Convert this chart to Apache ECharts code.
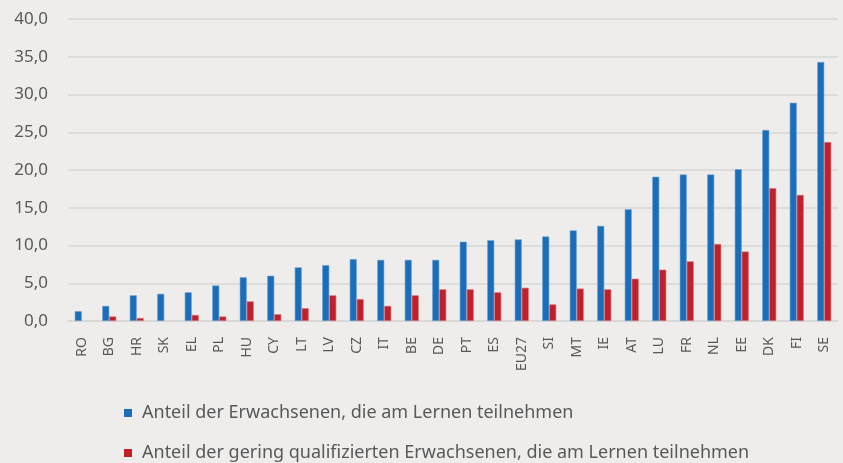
<!DOCTYPE html>
<html>
	<head>
		<meta charset="utf-8">
		<title>Teilnahme am Lernen</title>
		<script src="https://cdn.jsdelivr.net/npm/echarts@6/dist/echarts.min.js"></script>
		<style>
			html, body { margin: 0; padding: 0; background: #eeedeb; }
		</style>
	</head>
	<body>
		<div id="main" style="width: 843px;height:463px;"></div>

		<script type="text/javascript">
			// Länder (sortiert nach Anteil)
			var laender = ['RO', 'BG', 'HR', 'SK', 'EL', 'PL', 'HU', 'CY', 'LT', 'LV', 'CZ', 'IT', 'BE', 'DE',
				'PT', 'ES', 'EU27', 'SI', 'MT', 'IE', 'AT', 'LU', 'FR', 'NL', 'EE', 'DK', 'FI', 'SE'];
			// Anteil der Erwachsenen, die am Lernen teilnehmen
			var alleErwachsenen = [1.3, 2.0, 3.4, 3.6, 3.8, 4.7, 5.8, 6.0, 7.1, 7.4, 8.2, 8.1, 8.1, 8.1,
				10.5, 10.7, 10.8, 11.2, 12.0, 12.6, 14.8, 19.1, 19.4, 19.4, 20.1, 25.3, 28.9, 34.3];
			// Anteil der gering qualifizierten Erwachsenen
			var geringQualifiziert = [null, 0.6, 0.4, null, 0.8, 0.6, 2.6, 0.9, 1.7, 3.4, 2.9, 2.0, 3.4, 4.2,
				4.2, 3.8, 4.4, 2.2, 4.3, 4.2, 5.6, 6.8, 7.9, 10.2, 9.2, 17.6, 16.7, 23.7];
			var serienNamen = ['Anteil der Erwachsenen, die am Lernen teilnehmen',
				'Anteil der gering qualifizierten Erwachsenen, die am Lernen teilnehmen'];
			var yTicks = { min: 0, max: 40, interval: 5 };

			var myChart = echarts.init(document.getElementById('main'));
			var font = '"Noto Sans", sans-serif';

			// je Serie eine eigene Legende, untereinander
			function legende(name, top) {
				return {
					left: 124,
					top: top,
					padding: 0,
					itemWidth: 8,
					itemHeight: 8,
					icon: 'rect',
					itemStyle: { borderWidth: 0 },
					textStyle: { fontFamily: font, fontSize: 18, color: '#595959', padding: [0, 0, 0, 5] },
					data: [name]
				};
			}

			var option = {
				backgroundColor: '#eeedeb',
				animation: false,
				grid: { left: 68, right: 5, top: 19, bottom: 142, containLabel: false },
				legend: [legende(serienNamen[0], 404), legende(serienNamen[1], 444)],
				xAxis: {
					type: 'category',
					data: laender,
					axisLine: { lineStyle: { color: '#d6d6d6', width: 1.5 } },
					axisTick: { show: false },
					axisLabel: { rotate: 90, margin: 16, interval: 0, fontFamily: font, fontSize: 14, color: '#595959' }
				},
				yAxis: {
					type: 'value',
					min: yTicks.min,
					max: yTicks.max,
					interval: yTicks.interval,
					axisLine: { show: false },
					axisTick: { show: false },
					splitLine: { lineStyle: { color: '#d6d6d6', width: 1.5 } },
					axisLabel: {
						margin: 20,
						fontFamily: font,
						fontSize: 17,
						color: '#595959',
						formatter: function (v) { return v.toFixed(1).replace('.', ','); }
					}
				},
				series: [
					{
						name: serienNamen[0],
						type: 'bar',
						barWidth: 7,
						barGap: '0%',
						data: alleErwachsenen,
						itemStyle: { color: '#1a6eb9', borderColor: '#6fa3d4', borderWidth: 0.6 }
					},
					{
						name: serienNamen[1],
						type: 'bar',
						barWidth: 7,
						data: geringQualifiziert,
						itemStyle: { color: '#c0202a', borderColor: '#dc7a80', borderWidth: 0.6 }
					}
				]
			};

			myChart.setOption(option);
		</script>
	</body>
</html>
